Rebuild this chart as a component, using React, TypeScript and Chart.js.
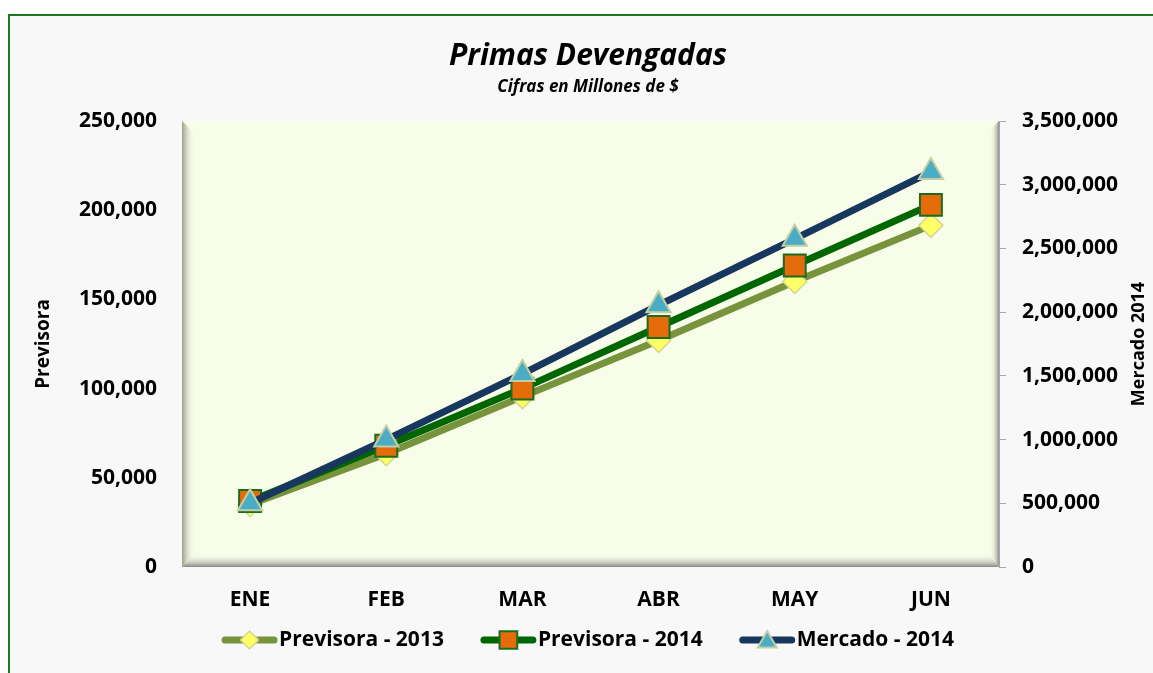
import React, { useEffect, useRef } from "react";
import { Chart, registerables } from "chart.js";

Chart.register(...registerables);

// ---------- data ----------
const categories = ["ENE", "FEB", "MAR", "ABR", "MAY", "JUN"];
const previsora2013 = [35000, 63500, 95500, 127000, 160000, 191500];
const previsora2014 = [37000, 68000, 100000, 134500, 169000, 203000];
const mercado2014 = [500000, 1000000, 1515000, 2055000, 2575000, 3100000];
const seriesNames = ["Previsora - 2013", "Previsora - 2014", "Mercado - 2014"];
const leftAxisTitle = "Previsora";
const rightAxisTitle = "Mercado 2014";
const chartTitle = "Primas Devengadas";
const chartSubtitle = "Cifras en Millones de $";
const leftMax = 250000;
const leftStep = 50000;
const rightMax = 3500000;
const rightStep = 500000;

const FONT = "'Open Sans', 'DejaVu Sans', sans-serif";

const fmt = (v: number) => Number(v).toLocaleString("en-US");

type MarkerStyle = {
  shape: string;
  fill: string;
  stroke: string;
  strokeWidth: number;
};

function drawMarker(ctx: CanvasRenderingContext2D, x: number, y: number, r: number, m: MarkerStyle) {
  ctx.save();
  ctx.beginPath();
  if (m.shape === "rect") {
    const s = Math.SQRT1_2 * r;
    ctx.rect(x - s, y - s, 2 * s, 2 * s);
  } else if (m.shape === "rectRot") {
    ctx.moveTo(x, y - r);
    ctx.lineTo(x + r, y);
    ctx.lineTo(x, y + r);
    ctx.lineTo(x - r, y);
    ctx.closePath();
  } else {
    let rad = 0;
    ctx.moveTo(x + Math.sin(rad) * r, y - Math.cos(rad) * r);
    rad += (2 * Math.PI) / 3;
    ctx.lineTo(x + Math.sin(rad) * r, y - Math.cos(rad) * r);
    rad += (2 * Math.PI) / 3;
    ctx.lineTo(x + Math.sin(rad) * r, y - Math.cos(rad) * r);
    ctx.closePath();
  }
  ctx.fillStyle = m.fill;
  ctx.fill();
  ctx.lineWidth = m.strokeWidth;
  ctx.strokeStyle = m.stroke;
  ctx.stroke();
  ctx.restore();
}

const plotBgPlugin = {
  id: "plotBg",
  beforeDraw(chart: any) {
    const { ctx, chartArea: a } = chart;
    const w = a.right - a.left;
    const h = a.bottom - a.top;
    ctx.save();
    ctx.fillStyle = "#f7fde9";
    ctx.fillRect(a.left, a.top, w, h);
    // left bevel
    let g = ctx.createLinearGradient(a.left, 0, a.left + 13, 0);
    g.addColorStop(0, "rgba(150,155,135,0.95)");
    g.addColorStop(0.4, "rgba(200,205,185,0.7)");
    g.addColorStop(1, "rgba(247,253,233,0)");
    ctx.fillStyle = g;
    ctx.beginPath();
    ctx.moveTo(a.left, a.top);
    ctx.lineTo(a.left + 13, a.top + 13);
    ctx.lineTo(a.left + 13, a.bottom - 13);
    ctx.lineTo(a.left, a.bottom);
    ctx.closePath();
    ctx.fill();
    // bottom bevel
    g = ctx.createLinearGradient(0, a.bottom, 0, a.bottom - 13);
    g.addColorStop(0, "rgba(130,130,125,0.95)");
    g.addColorStop(0.35, "rgba(190,192,180,0.8)");
    g.addColorStop(1, "rgba(247,253,233,0)");
    ctx.fillStyle = g;
    ctx.beginPath();
    ctx.moveTo(a.left, a.bottom);
    ctx.lineTo(a.left + 13, a.bottom - 13);
    ctx.lineTo(a.right - 9, a.bottom - 13);
    ctx.lineTo(a.right, a.bottom);
    ctx.closePath();
    ctx.fill();
    // right bevel
    g = ctx.createLinearGradient(a.right, 0, a.right - 9, 0);
    g.addColorStop(0, "rgba(140,140,135,0.95)");
    g.addColorStop(1, "rgba(247,253,233,0)");
    ctx.fillStyle = g;
    ctx.beginPath();
    ctx.moveTo(a.right, a.top);
    ctx.lineTo(a.right - 9, a.top + 9);
    ctx.lineTo(a.right - 9, a.bottom - 13);
    ctx.lineTo(a.right, a.bottom);
    ctx.closePath();
    ctx.fill();
    ctx.restore();
  },
};

const extrasPlugin = {
  id: "extras",
  afterDraw(chart: any) {
    const { ctx, chartArea: a } = chart;
    const midY = (a.top + a.bottom) / 2;
    ctx.save();
    ctx.fillStyle = "#000";
    ctx.textAlign = "center";
    ctx.textBaseline = "middle";
    // left axis title
    ctx.font = `bold 19px ${FONT}`;
    ctx.save();
    ctx.translate(44, midY);
    ctx.rotate(-Math.PI / 2);
    ctx.fillText(leftAxisTitle, 0, 0);
    ctx.restore();
    // right axis title (reads bottom to top)
    ctx.font = `bold 18px ${FONT}`;
    ctx.save();
    ctx.translate(1139, midY);
    ctx.rotate(-Math.PI / 2);
    ctx.fillText(rightAxisTitle, 0, 0);
    ctx.restore();

    // legend
    const lineLen = 55;
    const gapText = 2;
    const gapItems = 37;
    const legendY = 640;
    ctx.font = `bold 21px ${FONT}`;
    const items = chart.data.datasets.map((ds: any) => ({
      ds,
      tw: ctx.measureText(ds.label).width,
    }));
    const total =
      items.reduce((s: number, it: any) => s + lineLen + gapText + it.tw, 0) +
      gapItems * (items.length - 1);
    let x = 588 - total / 2;
    items.forEach((it: any) => {
      const ds = it.ds;
      ctx.save();
      ctx.strokeStyle = ds.borderColor;
      ctx.lineWidth = 7;
      ctx.lineCap = "round";
      ctx.beginPath();
      ctx.moveTo(x + 3, legendY);
      ctx.lineTo(x + lineLen - 3, legendY);
      ctx.stroke();
      ctx.restore();
      drawMarker(ctx, x + lineLen / 2, legendY + (ds.pointStyle === "triangle" ? 2 : 0), ds.pointStyle === "rect" ? 12.5 : ds.pointStyle === "rectRot" ? 9 : 11, {
        shape: ds.pointStyle,
        fill: ds.pointBackgroundColor,
        stroke: ds.pointBorderColor,
        strokeWidth: ds.pointBorderWidth,
      });
      ctx.fillStyle = "#000";
      ctx.textAlign = "left";
      ctx.textBaseline = "middle";
      ctx.fillText(ds.label, x + lineLen + gapText, legendY);
      x += lineLen + gapText + it.tw + gapItems;
    });
    ctx.restore();
  },
};

export default function App() {
  const ref = useRef<HTMLCanvasElement | null>(null);

  useEffect(() => {
    if (!ref.current) return;
    const tickFont = { family: FONT, size: 21, weight: "bold" as const };
    const chart = new Chart(ref.current, {
      type: "line",
      data: {
        labels: categories,
        datasets: [
          {
            label: seriesNames[0],
            data: previsora2013,
            yAxisID: "y",
            borderColor: "#77933c",
            backgroundColor: "#77933c",
            borderWidth: 7,
            pointStyle: "rectRot",
            pointRadius: 12,
            pointBackgroundColor: "#ffff66",
            pointBorderColor: "#d6d68e",
            pointBorderWidth: 1.5,
            tension: 0,
            order: 3,
          },
          {
            label: seriesNames[1],
            data: previsora2014,
            yAxisID: "y",
            borderColor: "#006600",
            backgroundColor: "#006600",
            borderWidth: 7,
            pointStyle: "rect",
            pointRadius: 15.5,
            pointBackgroundColor: "#e46c0a",
            pointBorderColor: "#1d6b1d",
            pointBorderWidth: 2,
            tension: 0,
            order: 2,
          },
          {
            label: seriesNames[2],
            data: mercado2014,
            yAxisID: "y1",
            borderColor: "#17375e",
            backgroundColor: "#17375e",
            borderWidth: 7,
            pointStyle: "triangle",
            pointRadius: 14,
            pointBackgroundColor: "#4bacc6",
            pointBorderColor: "#c3cfa3",
            pointBorderWidth: 2,
            tension: 0,
            order: 1,
          },
        ] as any,
      },
      options: {
        responsive: false,
        animation: false,
        layout: { padding: { top: 28, left: 23, right: 0, bottom: 0 } },
        plugins: {
          legend: { display: false },
          tooltip: { enabled: false },
          title: {
            display: true,
            text: chartTitle,
            color: "#000",
            font: { family: FONT, size: 30, weight: "bold", style: "italic" },
            padding: { top: 10, bottom: 2 },
          },
          subtitle: {
            display: true,
            text: chartSubtitle,
            color: "#000",
            font: { family: FONT, size: 17, weight: "bold", style: "italic" },
            padding: { top: 1, bottom: 23.6 },
          },
        },
        scales: {
          x: {
            offset: true,
            grid: { display: false, drawTicks: false, offset: true },
            border: { display: false },
            ticks: { color: "#000", font: tickFont, padding: 20, maxRotation: 0 },
            afterFit: (s: any) => {
              s.height = 106;
            },
          },
          y: {
            position: "left",
            min: 0,
            max: leftMax,
            grid: { display: false, drawTicks: false },
            border: { display: false },
            ticks: {
              stepSize: leftStep,
              color: "#000",
              font: tickFont,
              padding: 25,
              callback: (v: any) => fmt(v),
            },
            afterFit: (s: any) => {
              s.width = 159;
            },
          },
          y1: {
            position: "right",
            min: 0,
            max: rightMax,
            grid: {
              drawOnChartArea: false,
              drawTicks: true,
              tickLength: 7,
              color: "#a6a6a6",
            },
            border: { display: true, color: "#a6a6a6", width: 1 },
            ticks: {
              stepSize: rightStep,
              color: "#000",
              font: tickFont,
              padding: 16,
              callback: (v: any) => fmt(v),
            },
            afterFit: (s: any) => {
              s.width = 154;
            },
          },
        },
      } as any,
      plugins: [plotBgPlugin, extrasPlugin],
    });
    return () => chart.destroy();
  }, []);

  return (
    <>
      <style>{`html,body{margin:0;padding:0;background:#ffffff;overflow:hidden;}`}</style>
      <div
        style={{
          position: "absolute",
          left: 8,
          top: 14,
          width: 1200,
          height: 700,
          border: "2px solid #1f7a1f",
          background: "#f8f8f8",
        }}
      />
      <canvas
        ref={ref}
        width={1153}
        height={673}
        style={{ position: "absolute", left: 0, top: 0, width: 1153, height: 673 }}
      />
    </>
  );
}
